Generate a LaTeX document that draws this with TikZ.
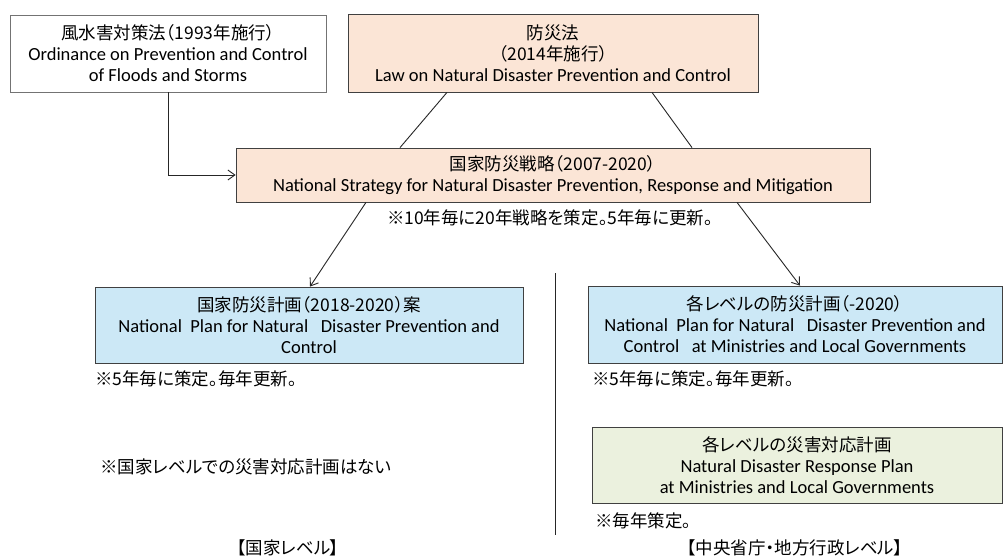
\documentclass[tikz,border=0pt]{standalone}
\usepackage{fontspec}
\setmainfont{Carlito}
\newfontfamily\jp[RawFeature=+palt]{Noto Sans CJK JP}
\usetikzlibrary{arrows.meta}
\definecolor{peach}{HTML}{FBE5D6}
\definecolor{lblue}{HTML}{CCE8F6}
\definecolor{lgreen}{HTML}{EBF1DE}
\definecolor{bord}{HTML}{404040}
\newcommand{\en}{\fontsize{18.5}{21}\selectfont}
\newcommand{\ja}{\jp\fontsize{17.5}{21}\selectfont}
\tikzset{
  box/.style={draw=bord, line width=0.8pt, rectangle, inner sep=0pt, align=center, font=\en},
  note/.style={inner sep=0pt, font=\ja},
  conn/.style={draw=black!85, line width=0.9pt},
  arr/.style={conn, -{Straight Barb[length=7pt,width=10pt]}}
}
\begin{document}
\begin{tikzpicture}[x=1pt,y=-1pt]
\useasboundingbox[fill=white] (0,0) rectangle (1006,559);
\node[box, draw=black!55, fill=white, minimum width=316pt, minimum height=77pt] (b1) at (168,53.5)
  {{\ja 風水害対策法（1993年施行）}\\Ordinance on Prevention and Control\\of Floods and Storms};
\node[box, fill=peach, minimum width=410pt, minimum height=78pt] (b2) at (553,53)
  {{\ja 防災法}\\{\ja（2014年施行）}\\Law on Natural Disaster Prevention and Control};
\node[box, fill=peach, minimum width=634pt, minimum height=54pt] (b3) at (553,175)
  {{\ja 国家防災戦略（2007-2020）}\\National Strategy for Natural Disaster Prevention, Response and Mitigation};
\node[note] (n3) at (550,218) {※10年毎に20年戦略を策定。5年毎に更新。};
\node[box, fill=lblue, minimum width=428pt, minimum height=76pt] (b4) at (309,325)
  {{\ja 国家防災計画（2018-2020）案}\\National\ \ Plan for Natural\ \ \ Disaster Prevention and\\Control};
\node[box, fill=lblue, minimum width=414pt, minimum height=77pt] (b5) at (795,324.5)
  {{\ja 各レベルの防災計画（-2020）}\\National\ \ Plan for Natural\ \ \ Disaster Prevention and\\Control\ \ \ at Ministries and Local Governments};
\node[note, anchor=west] (n4) at (95,379) {※5年毎に策定。毎年更新。};
\node[note, anchor=west] (n5) at (592,379) {※5年毎に策定。毎年更新。};
\node[box, fill=lgreen, minimum width=410pt, minimum height=76pt] (b6) at (797,465)
  {{\ja 各レベルの災害対応計画}\\Natural Disaster Response Plan\\at Ministries and Local Governments};
\node[note, anchor=west] (n6) at (595,521) {※毎年策定。};
\node[note, anchor=west] (n7) at (100,467) {※国家レベルでの災害対応計画はない};
\node[note] (l1) at (288,548) {【国家レベル】};
\node[note] (l2) at (795,548) {【中央省庁・地方行政レベル】};
\coordinate (dtop) at (555,273);
\coordinate (dbot) at (555,535);
\draw[conn] (dtop) -- (dbot);
\draw[arr] (b1.south) |- (b3.west);
\draw[conn] ([xshift=-106pt]b2.south) -- ([xshift=-153pt]b3.north);
\draw[conn] ([xshift=99pt]b2.south) -- ([xshift=139pt]b3.north);
\draw[arr] ([xshift=-187pt]b3.south) -- ([xshift=1pt]b4.north);
\draw[arr] ([xshift=184pt]b3.south) -- ([xshift=5pt]b5.north);
\end{tikzpicture}
\end{document}
